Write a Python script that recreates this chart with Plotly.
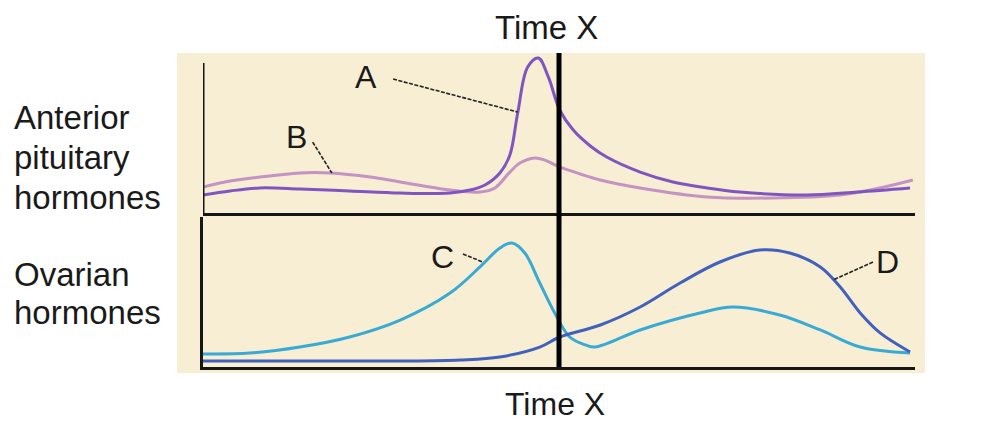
import plotly.graph_objects as go

# time axis: 0 = start of cycle window, 50 = Time X, 100 = end (arbitrary units)
time_a = [0, 3.8, 8, 13.6, 20.6, 27.7, 34.7, 37.5, 39.6, 41.7, 43.1, 44.2, 45.6, 47.1,
          48.5, 50.1, 52, 54.4, 56.7, 61.4, 66, 70.8, 75.4, 84.8, 91.9, 99.3]
hormone_a = [12, 14.7, 16.7, 16, 14.7, 13.3, 13.3, 15.3, 18.7, 26.7, 38.7, 66.7, 97.3, 103.3,
             90.7, 68.7, 55.3, 44.7, 37.3, 27.3, 20.7, 16.7, 14, 12, 14, 16.7]

time_b = [0, 3.8, 8, 13.6, 17.8, 23.5, 27.7, 34.7, 38.9, 41, 43.1, 44.5, 46.6, 48,
          50.1, 53, 55.8, 61.4, 70.8, 80.1, 89.5, 95.1, 99.7]
hormone_b = [17.3, 21.3, 24, 26.7, 26.7, 24, 20.7, 15.3, 14, 16.7, 27.3, 33.3, 36.7, 35.3,
             30.7, 26, 22, 16.7, 10.7, 10, 12, 16.7, 22]

time_c = [0, 6.6, 13.6, 20.6, 27.7, 34.7, 38.9, 41.7, 43.4, 45.2, 47.3, 49.4, 51.5, 53.7,
          55.1, 61.4, 69.8, 74.4, 81, 86.7, 92.3, 99.3]
hormone_c = [8.7, 9.3, 13.3, 20, 31.3, 49.3, 66.7, 79.3, 82.7, 76, 56, 36, 20, 14.7,
             13.3, 24.7, 36, 40, 34.7, 24.7, 13.3, 9.3]

time_d = [0, 13.6, 27.7, 36.1, 41.7, 47.3, 50.1, 55.8, 61.4, 67, 72.6, 78.2, 82.4, 86.7,
          89.5, 92.3, 95.1, 99.3]
hormone_d = [4, 4, 4, 4.7, 6.7, 13.3, 20, 28, 40, 56, 70, 78, 76, 66.7,
             53.3, 36, 22.7, 10]

time_x = 50

FONT = "Liberation Sans, Arial, sans-serif"
BEIGE = "#F7EED3"
INK = "#161616"
TXT = "#1a1a1a"

fig = go.Figure()

def curve(x, y, color, xa, ya):
    fig.add_trace(go.Scatter(x=x, y=y, mode="lines", line=dict(color=color, width=3, shape="spline", smoothing=1),
                             xaxis=xa, yaxis=ya, hoverinfo="skip", showlegend=False))

# top: anterior pituitary hormones, bottom: ovarian hormones
curve(time_b, hormone_b, "#C592C4", "x", "y")
curve(time_a, hormone_a, "#7F55C0", "x", "y")
curve(time_c, hormone_c, "#38AAD4", "x2", "y2")
curve(time_d, hormone_d, "#4261BC", "x2", "y2")

# beige panel behind everything
fig.add_shape(type="rect", xref="paper", yref="paper", x0=-0.0365, x1=1.014, y0=-0.019, y1=1,
              fillcolor=BEIGE, line_width=0, layer="below")
# left axis of top panel (stops below the top of the beige area)
fig.add_shape(type="line", xref="x", yref="y", x0=0, x1=0, y0=0, y1=100, line=dict(color=INK, width=3))
# Time X marker
fig.add_shape(type="line", xref="x", yref="paper", x0=time_x, x1=time_x, y0=0, y1=1,
              line=dict(color="#000000", width=5))

# leader lines for the curve labels
leaders = [("x", "y", 26.7, 89.3, 44.2, 67.3), ("x", "y", 15.4, 47.3, 18.1, 26.7),
           ("x2", "y2", 36.5, 75.3, 39.3, 70), ("x2", "y2", 94.1, 70, 88.5, 58)]
for xr, yr, x0, y0, x1, y1 in leaders:
    fig.add_shape(type="line", xref=xr, yref=yr, x0=x0, y0=y0, x1=x1, y1=y1,
                  line=dict(color="#222222", width=1.6, dash="4px,1.5px"))

labels = [("A", "x", "y", 22.9, 90.7), ("B", "x", "y", 13.2, 50.7),
          ("C", "x2", "y2", 33.6, 73.3), ("D", "x2", "y2", 96.2, 70)]
for txt, xr, yr, x, y in labels:
    fig.add_annotation(text=txt, xref=xr, yref=yr, x=x, y=y, showarrow=False, yanchor="middle",
                       font=dict(family=FONT, size=32, color=TXT))

fig.add_annotation(text="Time X", xref="x", yref="paper", x=48.3, y=1.08, showarrow=False,
                   xanchor="center", yanchor="middle", font=dict(family=FONT, size=33, color=TXT))
fig.add_annotation(text="Time X", xref="x", yref="paper", x=49.5, y=-0.117, showarrow=False,
                   xanchor="center", yanchor="middle", font=dict(family=FONT, size=32, color=TXT))

side = [("Anterior", 0.793), ("pituitary", 0.666), ("hormones", 0.541),
        ("Ovarian", 0.296), ("hormones", 0.172)]
for txt, y in side:
    fig.add_annotation(text=txt, xref="paper", yref="paper", x=-0.2683, y=y, xanchor="left",
                       yanchor="middle", showarrow=False, font=dict(family=FONT, size=33, color=TXT))

axis_common = dict(range=[0, 100], showgrid=False, zeroline=False, showticklabels=False, ticks="",
                   showline=True, linecolor=INK, linewidth=3, fixedrange=True)

# page body has an 8px margin, so the figure is shrunk by 8 and margins shifted to land on the same pixels
fig.update_layout(
    width=974, height=415,
    margin=dict(l=195, r=67, t=45, b=56),
    paper_bgcolor="white", plot_bgcolor="rgba(0,0,0,0)",
    showlegend=False,
    xaxis=dict(axis_common, domain=[0, 1], anchor="y"),
    yaxis=dict(axis_common, domain=[0.4904, 1], range=[0, 106.67], anchor="x", showline=False),
    xaxis2=dict(axis_common, domain=[0, 1], anchor="y2"),
    yaxis2=dict(axis_common, domain=[0, 0.4777], anchor="x2"),
)

fig.write_html("out.html", config={"displayModeBar": False})
